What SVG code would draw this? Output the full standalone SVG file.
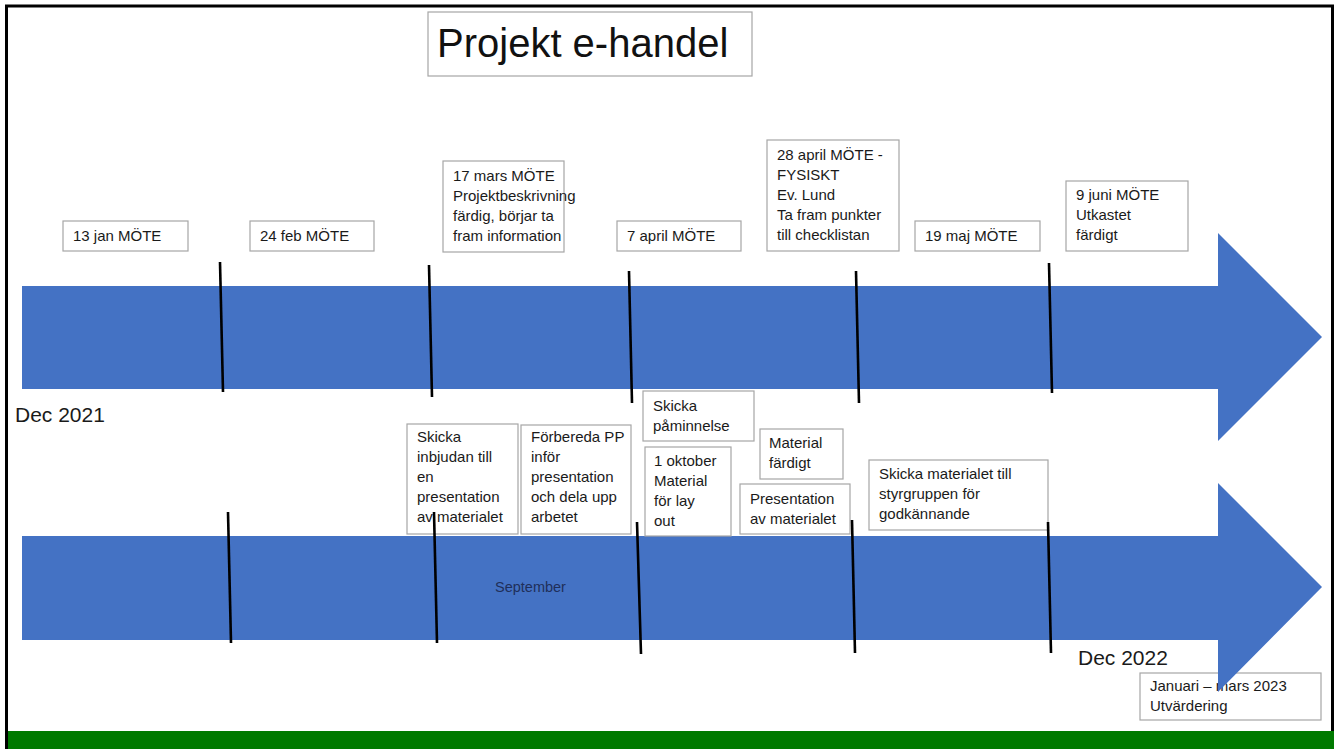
<svg xmlns="http://www.w3.org/2000/svg" width="1339" height="749" viewBox="0 0 1339 749">
<style>
.box{fill:#fff;stroke:#a6a6a6;stroke-width:1.2}
.t{font-family:"Liberation Sans",Arial,sans-serif;font-size:15px;fill:#1a1a1a}
.big{font-family:"Liberation Sans",Arial,sans-serif;font-size:21px;fill:#1a1a1a}
.arrow{fill:#4472C4}
.tick{stroke:#000;stroke-width:2.6;stroke-linecap:butt}
</style>
<rect x="0" y="0" width="1339" height="749" fill="#fff"/>
<rect x="7" y="731" width="1327" height="18" fill="#007a00"/>
<path d="M6.5 749 V6 H1332.5 V731" fill="none" stroke="#000" stroke-width="3"/>

<g id="title"><rect class="box" x="428" y="12" width="324" height="64"/><text x="437" y="57" style="font-family:'Liberation Sans',Arial,sans-serif;font-size:40px;fill:#111">Projekt e-handel</text></g>

<g id="n-jan2023"><rect class="box" x="1140" y="673" width="181" height="47"/><text class="t" x="1150" y="691">Januari – mars 2023</text><text class="t" x="1150" y="711">Utvärdering</text></g>

<g id="arrows">
<polygon class="arrow" points="22,286 1218,286 1218,233 1322,337 1218,441 1218,389 22,389"/>
<polygon class="arrow" points="22,536 1218,536 1218,483 1322,587 1218,692 1218,640 22,640"/>
</g>

<text class="big" x="15" y="422">Dec 2021</text>
<text class="big" x="1078" y="665">Dec 2022</text>
<text x="495" y="592" style="font-family:'Liberation Sans',Arial,sans-serif;font-size:14.5px;fill:#1f2f5a">September</text>

<g id="n-13jan"><rect class="box" x="63" y="221" width="125" height="30"/><text class="t" x="73" y="241">13 jan MÖTE</text></g>
<g id="n-24feb"><rect class="box" x="250" y="221" width="124" height="30"/><text class="t" x="260" y="241">24 feb MÖTE</text></g>
<g id="n-17mars"><rect class="box" x="443" y="161" width="121" height="91"/><text class="t" x="453" y="181">17 mars MÖTE</text><text class="t" x="453" y="201">Projektbeskrivning</text><text class="t" x="453" y="221">färdig, börjar ta</text><text class="t" x="453" y="241">fram information</text></g>
<g id="n-7april"><rect class="box" x="617" y="221" width="124" height="30"/><text class="t" x="627" y="241">7 april MÖTE</text></g>
<g id="n-28april"><rect class="box" x="767" y="140" width="132" height="111"/><text class="t" x="777" y="160">28 april MÖTE -</text><text class="t" x="777" y="180">FYSISKT</text><text class="t" x="777" y="200">Ev. Lund</text><text class="t" x="777" y="220">Ta fram punkter</text><text class="t" x="777" y="240">till checklistan</text></g>
<g id="n-19maj"><rect class="box" x="915" y="221" width="125" height="30"/><text class="t" x="925" y="241">19 maj MÖTE</text></g>
<g id="n-9juni"><rect class="box" x="1066" y="181" width="122" height="70"/><text class="t" x="1076" y="200">9 juni MÖTE</text><text class="t" x="1076" y="220">Utkastet</text><text class="t" x="1076" y="240">färdigt</text></g>

<g id="n-inbjudan"><rect class="box" x="407" y="424" width="111" height="110"/><text class="t" x="417" y="442">Skicka</text><text class="t" x="417" y="462">inbjudan till</text><text class="t" x="417" y="482">en</text><text class="t" x="417" y="502">presentation</text><text class="t" x="417" y="522">av materialet</text></g>
<g id="n-forbereda"><rect class="box" x="521" y="425" width="110" height="109"/><text class="t" x="531" y="442">Förbereda PP</text><text class="t" x="531" y="462">inför</text><text class="t" x="531" y="482">presentation</text><text class="t" x="531" y="502">och dela upp</text><text class="t" x="531" y="522">arbetet</text></g>
<g id="n-paminnelse"><rect class="box" x="643" y="391" width="111" height="50"/><text class="t" x="653" y="411">Skicka</text><text class="t" x="653" y="431">påminnelse</text></g>
<g id="n-1okt"><rect class="box" x="645" y="447" width="86" height="89"/><text class="t" x="654" y="466">1 oktober</text><text class="t" x="654" y="486">Material</text><text class="t" x="654" y="506">för lay</text><text class="t" x="654" y="526">out</text></g>
<g id="n-material"><rect class="box" x="760" y="429" width="83" height="50"/><text class="t" x="769" y="448">Material</text><text class="t" x="769" y="468">färdigt</text></g>
<g id="n-presentation"><rect class="box" x="740" y="484" width="110" height="50"/><text class="t" x="750" y="504">Presentation</text><text class="t" x="750" y="524">av materialet</text></g>
<g id="n-styrgruppen"><rect class="box" x="869" y="460" width="179" height="70"/><text class="t" x="879" y="479">Skicka materialet till</text><text class="t" x="879" y="499">styrgruppen för</text><text class="t" x="879" y="519">godkännande</text></g>

<g id="connectors">
<line class="tick" x1="220" y1="262" x2="223" y2="392"/>
<line class="tick" x1="429" y1="265" x2="432" y2="397"/>
<line class="tick" x1="629" y1="271" x2="632" y2="403"/>
<line class="tick" x1="856" y1="271" x2="859" y2="403"/>
<line class="tick" x1="1049" y1="263" x2="1052" y2="393"/>
<line class="tick" x1="228" y1="512" x2="231" y2="643"/>
<line class="tick" x1="434" y1="512" x2="437" y2="643"/>
<line class="tick" x1="637" y1="522" x2="641" y2="654"/>
<line class="tick" x1="852" y1="520" x2="855" y2="653"/>
<line class="tick" x1="1048" y1="522" x2="1051" y2="653"/>
</g>
</svg>
